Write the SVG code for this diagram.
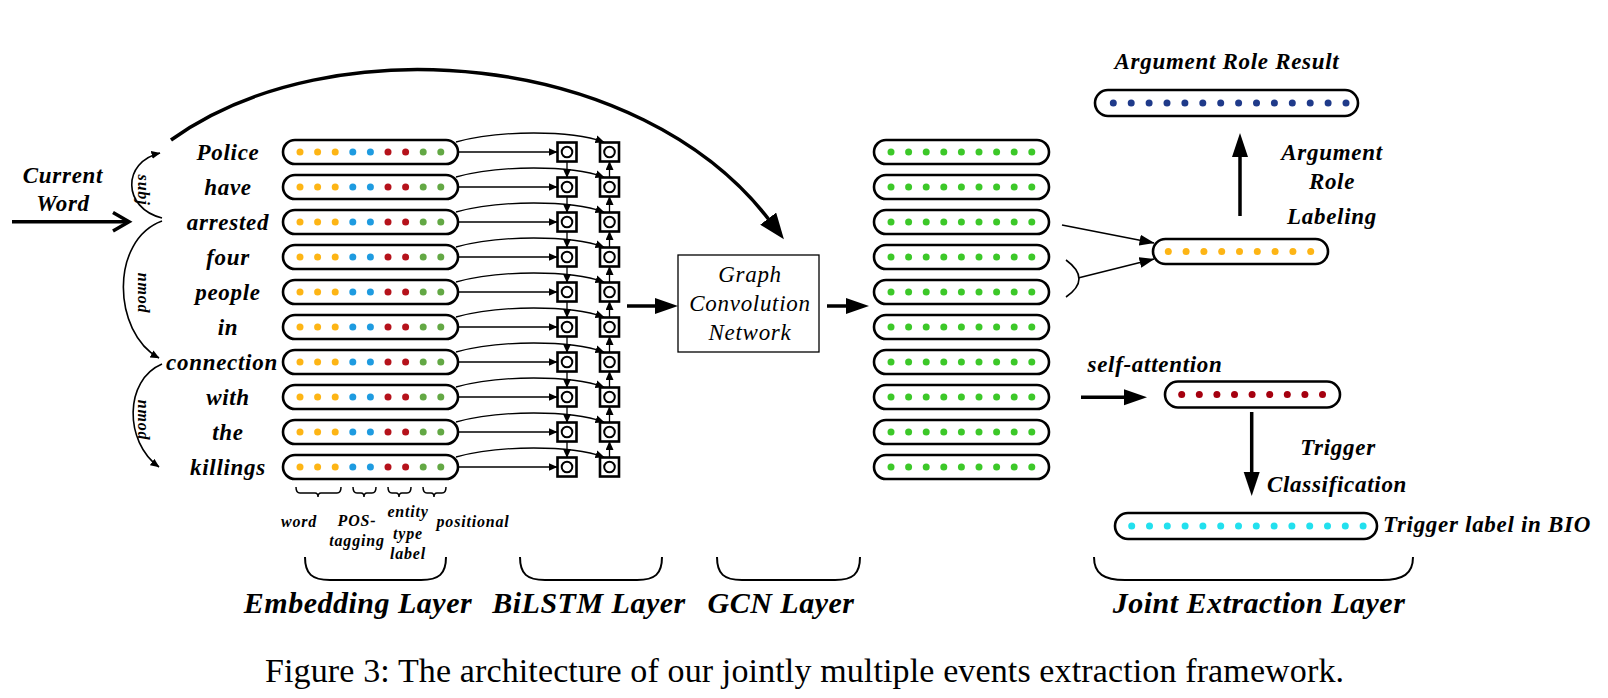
<svg xmlns="http://www.w3.org/2000/svg" width="1608" height="698" viewBox="0 0 1608 698">
<style>
.t{font-family:"Liberation Serif","Times New Roman",serif;font-weight:bold;font-style:italic;fill:#000}
.w{font-size:23px;letter-spacing:0.7px;text-anchor:middle}
.s{font-size:16px;letter-spacing:0.8px;text-anchor:middle}
.L{font-size:30px;letter-spacing:0.5px;text-anchor:middle}
.g{font-family:"Liberation Serif","Times New Roman",serif;font-style:italic;font-size:23px;letter-spacing:0.7px;text-anchor:middle}
.cap{fill:#fff;stroke:#000;stroke-width:2.6}
.box{fill:#fff;stroke:#000;stroke-width:2.6}
.cir{fill:none;stroke:#000;stroke-width:2}
.thin{fill:none;stroke:#000;stroke-width:1.3}
.med{fill:none;stroke:#000;stroke-width:1.6}
.br{fill:none;stroke:#000;stroke-width:2}
.brs{fill:none;stroke:#000;stroke-width:1.5}
.y{fill:#FDB515}.b{fill:#1E9BE0}.r{fill:#B5121B}.gr{fill:#63A844}
.G{fill:#3CC828}.N{fill:#1F3A8A}.R{fill:#A5000F}.C{fill:#22E0EE}
</style>
<defs>
<marker id="sm" markerUnits="userSpaceOnUse" markerWidth="9" markerHeight="8" refX="8.5" refY="4" orient="auto"><path d="M0,0 L9,4 L0,8 z" fill="#000"/></marker>
<marker id="md" markerUnits="userSpaceOnUse" markerWidth="15" markerHeight="11" refX="14.5" refY="5.5" orient="auto"><path d="M0,0 L15,5.5 L0,11 z" fill="#000"/></marker>
<marker id="bg" markerUnits="userSpaceOnUse" markerWidth="26" markerHeight="20" refX="3" refY="10" orient="auto"><path d="M0,0 L26,10 L0,20 z" fill="#000"/></marker>
<g id="erow">
<rect class="cap" x="283" y="-12" width="175" height="24" rx="12"/>
<circle class="y" cx="300" cy="0" r="3.5"/><circle class="y" cx="317.6" cy="0" r="3.5"/><circle class="y" cx="335.2" cy="0" r="3.5"/>
<circle class="b" cx="352.8" cy="0" r="3.5"/><circle class="b" cx="370.4" cy="0" r="3.5"/>
<circle class="r" cx="388" cy="0" r="3.5"/><circle class="r" cx="405.6" cy="0" r="3.5"/>
<circle class="gr" cx="423.2" cy="0" r="3.5"/><circle class="gr" cx="440.8" cy="0" r="3.5"/>
</g>
<g id="lrow">
<rect class="box" x="557.5" y="-9.5" width="19" height="19"/><circle class="cir" cx="567" cy="0" r="5.3"/>
<rect class="box" x="600" y="-9.5" width="19" height="19"/><circle class="cir" cx="609.5" cy="0" r="5.3"/>
<line class="thin" x1="458" y1="0" x2="557" y2="0" marker-end="url(#sm)"/>
<path class="thin" d="M456,-10 C500,-22 570,-22 604,-10" marker-end="url(#sm)"/>
</g>
<g id="grow">
<rect class="cap" x="874" y="-12" width="175" height="24" rx="12"/>
<circle class="G" cx="891" cy="0" r="3.5"/><circle class="G" cx="908.6" cy="0" r="3.5"/><circle class="G" cx="926.2" cy="0" r="3.5"/>
<circle class="G" cx="943.8" cy="0" r="3.5"/><circle class="G" cx="961.4" cy="0" r="3.5"/><circle class="G" cx="979" cy="0" r="3.5"/>
<circle class="G" cx="996.6" cy="0" r="3.5"/><circle class="G" cx="1014.2" cy="0" r="3.5"/><circle class="G" cx="1031.8" cy="0" r="3.5"/>
</g>
</defs>

<g id="current-word">
<text class="t w" x="63" y="183">Current</text>
<text class="t w" x="63" y="211">Word</text>
</g>

<g id="words">
<text class="t w" x="228" y="160">Police</text>
<text class="t w" x="228" y="195">have</text>
<text class="t w" x="228" y="230">arrested</text>
<text class="t w" x="228" y="265">four</text>
<text class="t w" x="228" y="300">people</text>
<text class="t w" x="228" y="335">in</text>
<text class="t w" x="222" y="370">connection</text>
<text class="t w" x="228" y="405">with</text>
<text class="t w" x="228" y="440">the</text>
<text class="t w" x="228" y="475">killings</text>
</g>

<g id="embedding-layer">
<use href="#erow" y="152"/><use href="#erow" y="187"/><use href="#erow" y="222"/><use href="#erow" y="257"/><use href="#erow" y="292"/>
<use href="#erow" y="327"/><use href="#erow" y="362"/><use href="#erow" y="397"/><use href="#erow" y="432"/><use href="#erow" y="467"/>
</g>

<g id="bilstm-layer">
<use href="#lrow" y="152"/><use href="#lrow" y="187"/><use href="#lrow" y="222"/><use href="#lrow" y="257"/><use href="#lrow" y="292"/>
<use href="#lrow" y="327"/><use href="#lrow" y="362"/><use href="#lrow" y="397"/><use href="#lrow" y="432"/><use href="#lrow" y="467"/>
</g>

<g id="gcn">
<rect x="678" y="255" width="141" height="97" fill="#fff" stroke="#000" stroke-width="1.3"/>
<text class="g" x="750" y="282">Graph</text>
<text class="g" x="750" y="311">Convolution</text>
<text class="g" x="750" y="340">Network</text>
</g>

<g id="gcn-output">
<use href="#grow" y="152"/><use href="#grow" y="187"/><use href="#grow" y="222"/><use href="#grow" y="257"/><use href="#grow" y="292"/>
<use href="#grow" y="327"/><use href="#grow" y="362"/><use href="#grow" y="397"/><use href="#grow" y="432"/><use href="#grow" y="467"/>
</g>

<g id="argument-result">
<text class="t w" x="1227" y="69">Argument Role Result</text>
<rect class="cap" x="1095" y="90" width="263" height="26" rx="13"/>
<g class="N">
<circle cx="1113.3" cy="103" r="3.5"/><circle cx="1131.2" cy="103" r="3.5"/><circle cx="1149.1" cy="103" r="3.5"/><circle cx="1167" cy="103" r="3.5"/>
<circle cx="1184.9" cy="103" r="3.5"/><circle cx="1202.8" cy="103" r="3.5"/><circle cx="1220.7" cy="103" r="3.5"/><circle cx="1238.6" cy="103" r="3.5"/>
<circle cx="1256.5" cy="103" r="3.5"/><circle cx="1274.4" cy="103" r="3.5"/><circle cx="1292.3" cy="103" r="3.5"/><circle cx="1310.2" cy="103" r="3.5"/>
<circle cx="1328.1" cy="103" r="3.5"/><circle cx="1346" cy="103" r="3.5"/>
</g>
</g>

<g id="argument-vector">
<rect class="cap" x="1153" y="239" width="175" height="25" rx="12.5"/>
<g class="y">
<circle cx="1168.3" cy="251.5" r="3.5"/><circle cx="1186.1" cy="251.5" r="3.5"/><circle cx="1203.9" cy="251.5" r="3.5"/>
<circle cx="1221.7" cy="251.5" r="3.5"/><circle cx="1239.5" cy="251.5" r="3.5"/><circle cx="1257.3" cy="251.5" r="3.5"/>
<circle cx="1275.1" cy="251.5" r="3.5"/><circle cx="1292.9" cy="251.5" r="3.5"/><circle cx="1310.7" cy="251.5" r="3.5"/>
</g>
</g>

<g id="arg-labels">
<text class="t w" x="1332" y="160">Argument</text>
<text class="t w" x="1332" y="189">Role</text>
<text class="t w" x="1332" y="224">Labeling</text>
</g>

<g id="trigger-vector">
<text class="t w" x="1155" y="372">self-attention</text>
<rect class="cap" x="1165" y="381.5" width="175" height="26" rx="13"/>
<g class="R">
<circle cx="1181.7" cy="394.5" r="3.5"/><circle cx="1199.3" cy="394.5" r="3.5"/><circle cx="1216.9" cy="394.5" r="3.5"/>
<circle cx="1234.5" cy="394.5" r="3.5"/><circle cx="1252.1" cy="394.5" r="3.5"/><circle cx="1269.7" cy="394.5" r="3.5"/>
<circle cx="1287.3" cy="394.5" r="3.5"/><circle cx="1304.9" cy="394.5" r="3.5"/><circle cx="1322.5" cy="394.5" r="3.5"/>
</g>
</g>

<g id="trigger-labels">
<text class="t w" x="1338" y="455">Trigger</text>
<text class="t w" x="1337" y="492">Classification</text>
</g>

<g id="trigger-result">
<rect class="cap" x="1115" y="513" width="262" height="26" rx="13"/>
<g class="C">
<circle cx="1131.7" cy="526" r="3.5"/><circle cx="1149.5" cy="526" r="3.5"/><circle cx="1167.3" cy="526" r="3.5"/><circle cx="1185.1" cy="526" r="3.5"/>
<circle cx="1202.9" cy="526" r="3.5"/><circle cx="1220.7" cy="526" r="3.5"/><circle cx="1238.5" cy="526" r="3.5"/><circle cx="1256.3" cy="526" r="3.5"/>
<circle cx="1274.1" cy="526" r="3.5"/><circle cx="1291.9" cy="526" r="3.5"/><circle cx="1309.7" cy="526" r="3.5"/><circle cx="1327.5" cy="526" r="3.5"/>
<circle cx="1345.3" cy="526" r="3.5"/><circle cx="1363.1" cy="526" r="3.5"/>
</g>
<text class="t" style="font-size:23px;letter-spacing:0.7px" x="1383" y="532">Trigger label in BIO</text>
</g>

<g id="embedding-parts">
<path class="brs" d="M296,487 Q296,493 300,493 L315,493 Q318,493 318,497 Q318,493 321,493 L337,493 Q341,493 341,487"/>
<path class="brs" d="M353,487 Q353,493 357,493 L361,493 Q364,493 364,497 Q364,493 367,493 L372,493 Q376,493 376,487"/>
<path class="brs" d="M388,487 Q388,493 392,493 L396,493 Q399,493 399,497 Q399,493 402,493 L407,493 Q411,493 411,487"/>
<path class="brs" d="M423,487 Q423,493 427,493 L431,493 Q434,493 434,497 Q434,493 437,493 L442,493 Q446,493 446,487"/>
<text class="t s" x="299" y="527">word</text>
<text class="t s" x="357" y="526">POS-</text>
<text class="t s" x="357" y="546">tagging</text>
<text class="t s" x="408" y="517">entity</text>
<text class="t s" x="408" y="539">type</text>
<text class="t s" x="408" y="559">label</text>
<text class="t s" x="473" y="527">positional</text>
</g>

<g id="layer-labels">
<path class="br" d="M305,557 C305,574 312,580 330,580 L421,580 C439,580 446,574 446,557"/>
<path class="br" d="M520,557 C520,574 527,580 545,580 L637,580 C655,580 662,574 662,557"/>
<path class="br" d="M717,557 C717,574 724,580 742,580 L835,580 C853,580 860,574 860,557"/>
<path class="br" d="M1094,557 C1094,574 1104,580 1125,580 L1382,580 C1403,580 1413,574 1413,557"/>
<text class="t L" x="358" y="613">Embedding Layer</text>
<text class="t L" x="589" y="613">BiLSTM Layer</text>
<text class="t L" x="781" y="613">GCN Layer</text>
<text class="t L" x="1259" y="613">Joint Extraction Layer</text>
</g>

<g id="connectors">
<line x1="12" y1="221.7" x2="128" y2="221.7" stroke="#000" stroke-width="3.5"/>
<polyline points="113,212.5 129,221.7 113,231" fill="none" stroke="#000" stroke-width="3.5" stroke-linejoin="miter"/>
<path class="med" d="M162,218 C122,208 122,162 160,153" marker-end="url(#sm)"/>
<path class="med" d="M162,221 C110,240 112,332 159,358" marker-end="url(#sm)"/>
<path class="med" d="M162,364 C124,380 124,442 159,467" marker-end="url(#sm)"/>
<path d="M171,140 C330,25 640,50 770,221" fill="none" stroke="#000" stroke-width="3.5" marker-end="url(#bg)"/>
<g class="thin">
<line x1="567" y1="161.5" x2="567" y2="177.5" marker-end="url(#sm)"/>
<line x1="567" y1="196.5" x2="567" y2="212.5" marker-end="url(#sm)"/>
<line x1="567" y1="231.5" x2="567" y2="247.5" marker-end="url(#sm)"/>
<line x1="567" y1="266.5" x2="567" y2="282.5" marker-end="url(#sm)"/>
<line x1="567" y1="301.5" x2="567" y2="317.5" marker-end="url(#sm)"/>
<line x1="567" y1="336.5" x2="567" y2="352.5" marker-end="url(#sm)"/>
<line x1="567" y1="371.5" x2="567" y2="387.5" marker-end="url(#sm)"/>
<line x1="567" y1="406.5" x2="567" y2="422.5" marker-end="url(#sm)"/>
<line x1="567" y1="441.5" x2="567" y2="457.5" marker-end="url(#sm)"/>
<line x1="609.5" y1="177.5" x2="609.5" y2="161.5" marker-end="url(#sm)"/>
<line x1="609.5" y1="212.5" x2="609.5" y2="196.5" marker-end="url(#sm)"/>
<line x1="609.5" y1="247.5" x2="609.5" y2="231.5" marker-end="url(#sm)"/>
<line x1="609.5" y1="282.5" x2="609.5" y2="266.5" marker-end="url(#sm)"/>
<line x1="609.5" y1="317.5" x2="609.5" y2="301.5" marker-end="url(#sm)"/>
<line x1="609.5" y1="352.5" x2="609.5" y2="336.5" marker-end="url(#sm)"/>
<line x1="609.5" y1="387.5" x2="609.5" y2="371.5" marker-end="url(#sm)"/>
<line x1="609.5" y1="422.5" x2="609.5" y2="406.5" marker-end="url(#sm)"/>
<line x1="609.5" y1="457.5" x2="609.5" y2="441.5" marker-end="url(#sm)"/>
</g>
<line x1="627" y1="306" x2="659" y2="306" stroke="#000" stroke-width="3.5"/>
<polygon points="655,298 678,306 655,314" fill="#000"/>
<line x1="827" y1="306" x2="850" y2="306" stroke="#000" stroke-width="3.5"/>
<polygon points="846,298 869,306 846,314" fill="#000"/>
<path class="med" d="M1066,260 Q1092,279 1066,297"/>
<line class="med" x1="1062" y1="225" x2="1154" y2="243" marker-end="url(#md)"/>
<line class="med" x1="1078" y1="278" x2="1154" y2="259" marker-end="url(#md)"/>
<line x1="1240" y1="216" x2="1240" y2="150" stroke="#000" stroke-width="3.5"/>
<polygon points="1232,157 1240,133 1248,157" fill="#000"/>
<line x1="1081" y1="397.3" x2="1128" y2="397.3" stroke="#000" stroke-width="3.5"/>
<polygon points="1124,389.3 1147,397.3 1124,405.3" fill="#000"/>
<line x1="1251.7" y1="412" x2="1251.7" y2="478" stroke="#000" stroke-width="3.5"/>
<polygon points="1243.7,472 1251.7,496 1259.7,472" fill="#000"/>
</g>

<g id="dep-labels">
<text class="t s" transform="translate(143,190) rotate(90)" y="5">subj</text>
<text class="t s" transform="translate(143,293) rotate(90)" y="5">nmod</text>
<text class="t s" transform="translate(143,420) rotate(90)" y="5">nmod</text>
</g>

<text x="265" y="682" font-family="Liberation Serif, Times New Roman, serif" font-size="34" textLength="1079" lengthAdjust="spacing">Figure 3: The architecture of our jointly multiple events extraction framework.</text>
</svg>
